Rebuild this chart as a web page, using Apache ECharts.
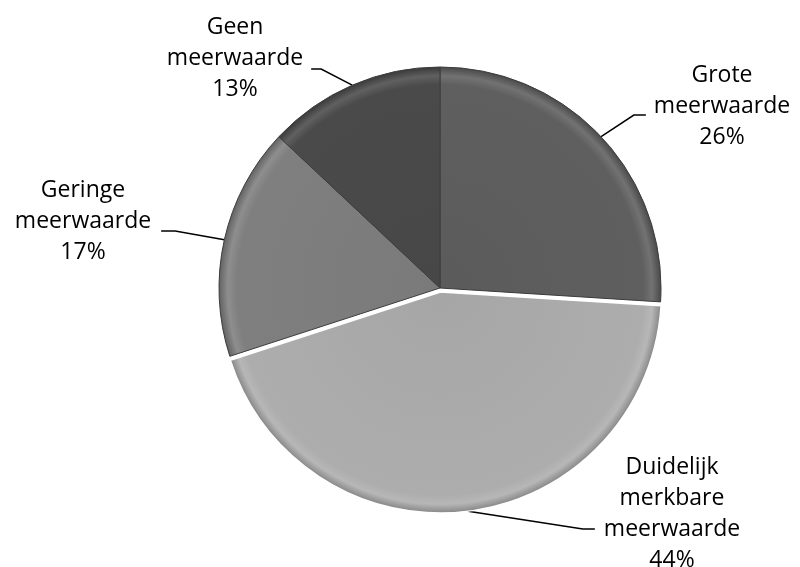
<!DOCTYPE html>
<html>
<head>
<meta charset="utf-8">
<script src="https://cdn.jsdelivr.net/npm/echarts@6/dist/echarts.min.js"></script>
<style>html,body{margin:0;padding:0;background:#fff}#c{width:800px;height:567px}</style>
</head>
<body>
<div id="c"></div>
<script>
// ---- data ----
const categories = ['Grote meerwaarde', 'Duidelijk merkbare meerwaarde', 'Geringe meerwaarde', 'Geen meerwaarde'];
const labelTexts = ['Grote\nmeerwaarde', 'Duidelijk\nmerkbare\nmeerwaarde', 'Geringe\nmeerwaarde', 'Geen\nmeerwaarde'];
const values = [26, 44, 17, 13];
const explodedIndex = 1;

// ---- style / layout ----
const colors = ['#5f5f5f', '#adadad', '#7f7f7f', '#4a4a4a'];
const CX = 440, CY = 288, R = 221, OFFSET = 4;
const labelPlace = [
  { cx: 722, cy: 106, lineY: 115, side: 'right', h: 12, gap: 8 },
  { cx: 672, cy: 514, lineY: 529, side: 'right', h: 12, gap: 9 },
  { cx: 83, cy: 221, lineY: 231, side: 'left', h: 14, gap: 10 },
  { cx: 235, cy: 58, lineY: 69, side: 'left', h: 10, gap: 8 }
];

// offset of the exploded slice along its middle angle (clockwise from 12 o'clock)
const total = values.reduce((a, b) => a + b, 0);
const before = values.slice(0, explodedIndex).reduce((a, b) => a + b, 0);
const midAng = (before + values[explodedIndex] / 2) / total * 2 * Math.PI;
const EX = CX + OFFSET * Math.sin(midAng);
const EY = CY - OFFSET * Math.cos(midAng);

function shade(hex, f) {
  const n = parseInt(hex.slice(1), 16);
  let r = (n >> 16) & 255, g = (n >> 8) & 255, b = n & 255;
  const m = c => Math.max(0, Math.min(255, Math.round(f >= 0 ? c + (255 - c) * f : c * (1 + f))));
  return 'rgb(' + m(r) + ',' + m(g) + ',' + m(b) + ')';
}
function grad(hex, x, y) {
  return {
    type: 'radial', x: x, y: y, r: R, global: true,
    colorStops: [
      { offset: 0, color: shade(hex, -0.04) },
      { offset: 0.92, color: hex },
      { offset: 0.96, color: shade(hex, 0.12) },
      { offset: 1, color: shade(hex, -0.22) }
    ]
  };
}

const labelOpt = {
  show: true,
  position: 'outside',
  formatter: p => labelTexts[p.dataIndex] + '\n' + Math.round(p.percent) + '%',
  color: '#000',
  fontFamily: 'Open Sans',
  fontSize: 23,
  lineHeight: 31
};
const lineOpt = { show: true, length: 20, length2: 10, lineStyle: { color: '#000', width: 1.5 } };
function layoutFn(params) {
  const pl = labelPlace[params.dataIndex];
  const pts = params.labelLinePoints;
  if (!pts) return {};
  const w = params.labelRect.width;
  const endX = pl.side === 'right' ? pl.cx - w / 2 - pl.gap : pl.cx + w / 2 + pl.gap;
  const bendX = pl.side === 'right' ? endX - pl.h : endX + pl.h;
  return {
    x: pl.cx, y: pl.cy, align: 'center', verticalAlign: 'middle',
    labelLinePoints: [pts[0], [bendX, pl.lineY], [endX, pl.lineY]]
  };
}

function makeData(showExploded) {
  return categories.map((c, i) => {
    const visible = (i === explodedIndex) === showExploded;
    return {
      name: c,
      value: values[i],
      itemStyle: visible ? {
        color: grad(colors[i], showExploded ? EX : CX, showExploded ? EY : CY),
        borderColor: i === explodedIndex ? '#ffffff' : '#3c3c3c',
        borderWidth: i === explodedIndex ? 1.5 : 1
      } : { color: 'rgba(0,0,0,0)', borderWidth: 0 },
      label: visible ? {} : { show: false },
      labelLine: visible ? {} : { show: false }
    };
  });
}

const chart = echarts.init(document.getElementById('c'), null, { renderer: 'canvas' });
chart.setOption({
  backgroundColor: '#ffffff',
  animation: false,
  series: [{
    type: 'pie',
    center: [CX, CY],
    radius: R,
    startAngle: 90,
    clockwise: true,
    avoidLabelOverlap: false,
    silent: true,
    data: makeData(false),
    label: labelOpt,
    labelLine: lineOpt,
    labelLayout: layoutFn
  }, {
    type: 'pie',
    center: [EX, EY],
    radius: R,
    startAngle: 90,
    clockwise: true,
    avoidLabelOverlap: false,
    silent: true,
    data: makeData(true),
    label: labelOpt,
    labelLine: lineOpt,
    labelLayout: layoutFn
  }]
});
</script>
</body>
</html>
